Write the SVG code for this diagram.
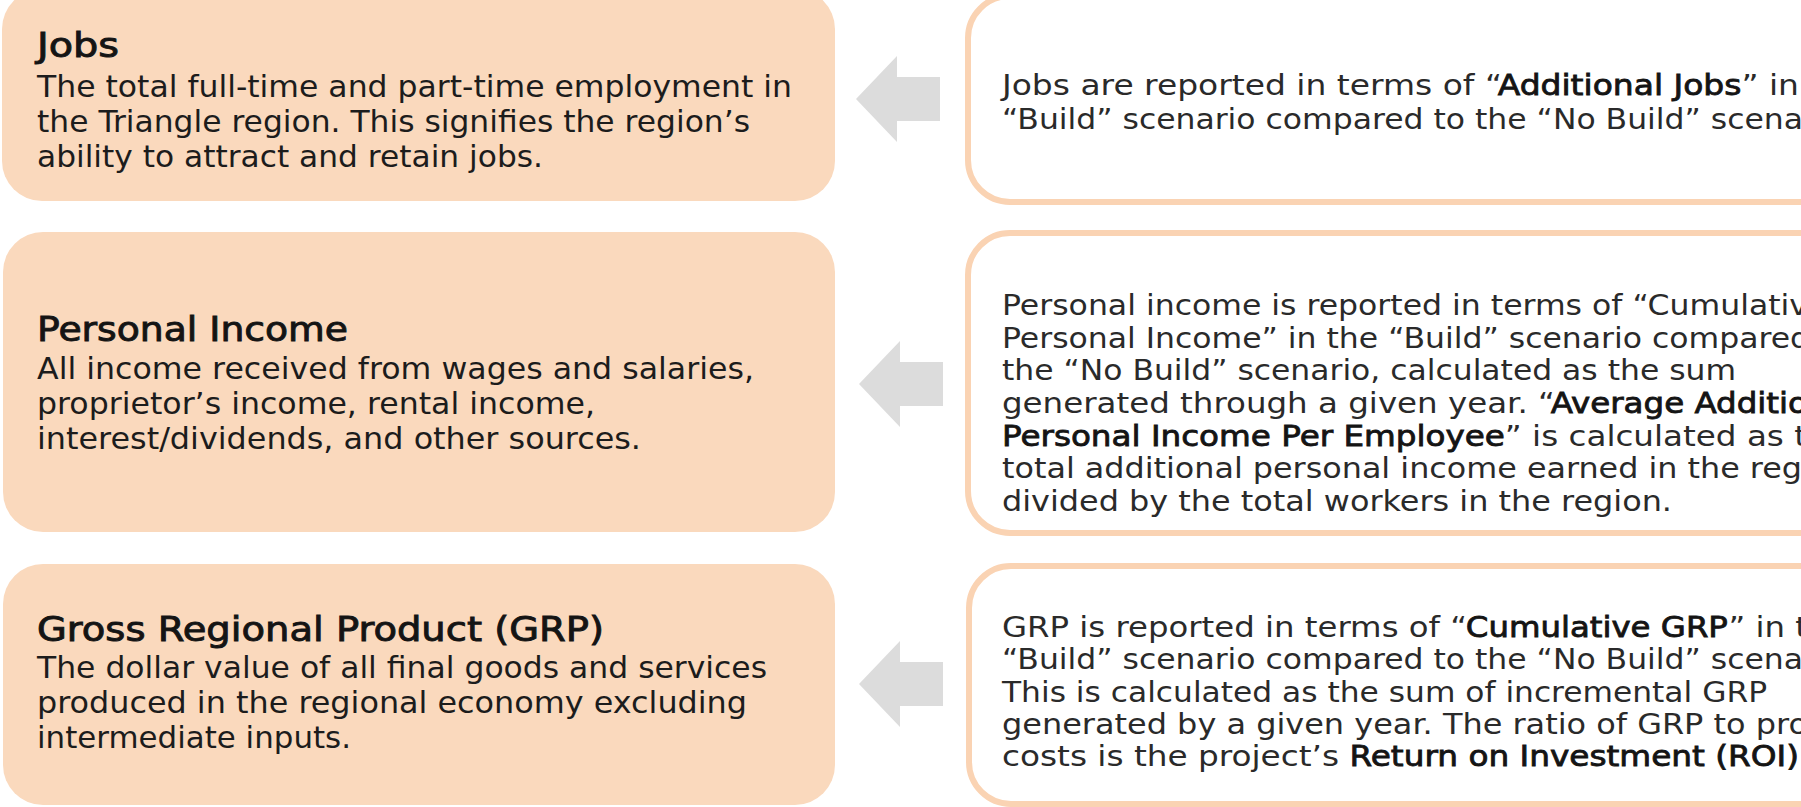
<svg xmlns="http://www.w3.org/2000/svg" width="1801" height="807" viewBox="0 0 1801 807">
  <style>
    .term { fill: #fad9bd; }
    .note { fill: #ffffff; stroke: #fad3b3; stroke-width: 6; }
    .arrow { fill: #dcdcdc; }
    text { font-family: "DejaVu Sans", "Liberation Sans", sans-serif; }
    .title { font-size: 33px; fill: #141414; stroke: #141414; stroke-width: 0.9px; }
    .body { font-size: 30px; fill: #1c1c1c; }
    .desc { font-size: 28px; fill: #2a2a2a; }
    .em { fill: #141414; stroke: #141414; stroke-width: 0.8px; }
  </style>
  <rect width="1801" height="807" fill="#ffffff"/>

  <!-- Definition cards (left) -->
  <g id="jobs">
    <rect class="term" x="2" y="-11" width="833" height="212" rx="40"/>
    <text class="title" x="37" y="57" textLength="82" lengthAdjust="spacingAndGlyphs">Jobs</text>
    <text class="body" x="37" y="97" textLength="755" lengthAdjust="spacingAndGlyphs">The total full-time and part-time employment in</text>
    <text class="body" x="37" y="132" textLength="713" lengthAdjust="spacingAndGlyphs">the Triangle region. This signifies the region’s</text>
    <text class="body" x="37" y="167" textLength="506" lengthAdjust="spacingAndGlyphs">ability to attract and retain jobs.</text>
  </g>

  <g id="personal-income">
    <rect class="term" x="3" y="232" width="832" height="300" rx="40"/>
    <text class="title" x="37" y="341" textLength="311" lengthAdjust="spacingAndGlyphs">Personal Income</text>
    <text class="body" x="37" y="379" textLength="717" lengthAdjust="spacingAndGlyphs">All income received from wages and salaries,</text>
    <text class="body" x="37" y="414" textLength="558" lengthAdjust="spacingAndGlyphs">proprietor’s income, rental income,</text>
    <text class="body" x="37" y="449" textLength="604" lengthAdjust="spacingAndGlyphs">interest/dividends, and other sources.</text>
  </g>

  <g id="grp">
    <rect class="term" x="3" y="564" width="832" height="241" rx="40"/>
    <text class="title" x="37" y="641" textLength="567" lengthAdjust="spacingAndGlyphs">Gross Regional Product (GRP)</text>
    <text class="body" x="37" y="678" textLength="730" lengthAdjust="spacingAndGlyphs">The dollar value of all final goods and services</text>
    <text class="body" x="37" y="713" textLength="710" lengthAdjust="spacingAndGlyphs">produced in the regional economy excluding</text>
    <text class="body" x="37" y="748" textLength="314" lengthAdjust="spacingAndGlyphs">intermediate inputs.</text>
  </g>

  <!-- Reporting notes (right) -->
  <g id="jobs-note">
    <rect class="note" x="968" y="-4" width="900" height="206" rx="42"/>
    <text class="desc" x="1002" y="95" textLength="797" lengthAdjust="spacingAndGlyphs">Jobs are reported in terms of “<tspan class="em">Additional Jobs</tspan>” in</text>
    <text class="desc" x="1002" y="129" textLength="801" lengthAdjust="spacingAndGlyphs">“Build” scenario compared to the “No Build” scena</text>
  </g>

  <g id="personal-income-note">
    <rect class="note" x="968" y="233" width="900" height="300" rx="42"/>
    <text class="desc" x="1002" y="315" textLength="806" lengthAdjust="spacingAndGlyphs">Personal income is reported in terms of “Cumulativ</text>
    <text class="desc" x="1002" y="348" textLength="808" lengthAdjust="spacingAndGlyphs">Personal Income” in the “Build” scenario compared</text>
    <text class="desc" x="1002" y="380" textLength="734" lengthAdjust="spacingAndGlyphs">the “No Build” scenario, calculated as the sum</text>
    <text class="desc" x="1002" y="413" textLength="806" lengthAdjust="spacingAndGlyphs">generated through a given year. “<tspan class="em">Average Additio</tspan></text>
    <text class="desc" x="1002" y="446" textLength="805" lengthAdjust="spacingAndGlyphs"><tspan class="em">Personal Income Per Employee</tspan>” is calculated as t</text>
    <text class="desc" x="1002" y="478" textLength="800" lengthAdjust="spacingAndGlyphs">total additional personal income earned in the reg</text>
    <text class="desc" x="1002" y="511" textLength="670" lengthAdjust="spacingAndGlyphs">divided by the total workers in the region.</text>
  </g>

  <g id="grp-note">
    <rect class="note" x="969" y="566" width="900" height="238" rx="42"/>
    <text class="desc" x="1002" y="637" textLength="806" lengthAdjust="spacingAndGlyphs">GRP is reported in terms of “<tspan class="em">Cumulative GRP</tspan>” in t</text>
    <text class="desc" x="1002" y="669" textLength="801" lengthAdjust="spacingAndGlyphs">“Build” scenario compared to the “No Build” scena</text>
    <text class="desc" x="1002" y="702" textLength="765" lengthAdjust="spacingAndGlyphs">This is calculated as the sum of incremental GRP</text>
    <text class="desc" x="1002" y="734" textLength="806" lengthAdjust="spacingAndGlyphs">generated by a given year. The ratio of GRP to pro</text>
    <text class="desc" x="1002" y="766" textLength="797" lengthAdjust="spacingAndGlyphs">costs is the project’s <tspan class="em">Return on Investment (ROI)</tspan></text>
  </g>

  <!-- Connectors: block arrows from each note back to its card -->
  <g id="connectors">
    <path class="arrow" d="M856,99 L897,56 L897,77 L940,77 L940,121 L897,121 L897,142 Z"/>
    <path class="arrow" d="M859,384 L900,341 L900,362 L943,362 L943,406 L900,406 L900,427 Z"/>
    <path class="arrow" d="M859,684 L900,641 L900,662 L943,662 L943,706 L900,706 L900,727 Z"/>
  </g>
</svg>
